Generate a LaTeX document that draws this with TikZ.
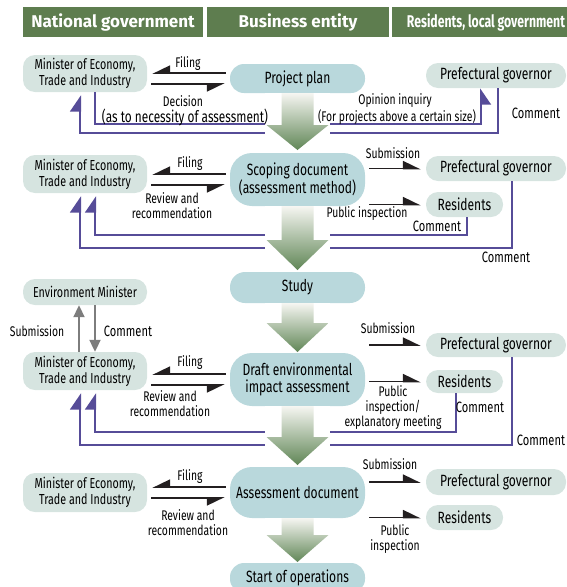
\documentclass[tikz,border=0pt]{standalone}
\usepackage{fontspec}
\setmainfont{Fira Sans}[FakeStretch=0.74]
\newfontfamily\headfont{Fira Sans}[FakeStretch=1.0]
\newfontfamily\headnarrow{Fira Sans}[FakeStretch=0.72]
\usetikzlibrary{arrows.meta,positioning}

\definecolor{headgreen}{RGB}{94,125,79}
\definecolor{bizblue}{RGB}{185,216,220}
\definecolor{govgray}{RGB}{214,228,224}
\definecolor{linepurple}{RGB}{86,76,152}
\definecolor{arrowblack}{RGB}{35,31,32}
\definecolor{arrowgray}{RGB}{125,125,125}
\definecolor{greendark}{RGB}{96,134,86}
\definecolor{greenlight}{RGB}{246,246,242}

\begin{document}
\begin{tikzpicture}[x=1pt, y=-1pt,
    header/.style={fill=headgreen, text=white, inner sep=0pt, minimum height=30pt,
        font=\headfont\bfseries\fontsize{17}{17}\selectfont},
    govbox/.style={fill=govgray, rounded corners=12pt, inner sep=0pt, align=center,
        font=\fontsize{14.5}{16}\selectfont},
    govsay/.style={govbox, font=\fontsize{16.3}{17}\selectfont},
    bizbox/.style={fill=bizblue, inner sep=0pt, align=center, minimum width=135pt,
        font=\fontsize{16.3}{17.5}\selectfont},
    lbl/.style={inner sep=0pt, align=center, font=\fontsize{14}{15}\selectfont},
    small/.style={inner sep=0pt, align=center, font=\fontsize{14}{15}\selectfont},
    cmt/.style={inner sep=0pt, font=\fontsize{15}{15}\selectfont},
    blk/.style={draw=arrowblack, line width=1.8pt, shorten <=4pt, shorten >=5pt},
    purp/.style={draw=linepurple, line width=2pt, shorten >=3pt},
    grayarr/.style={draw=arrowgray, line width=2pt, -{Triangle[length=12pt, width=11pt]}}]
    \useasboundingbox (0,0) rectangle (567,587);

    % Header
    \node[header, minimum width=180pt] (hnat) at (113,22) {National government};
    \node[header, minimum width=182pt] (hbiz) at (298,22) {Business entity};
    \node[header, minimum width=175pt] (hres) at (479.5,22) {};
    \node[text=white, inner sep=0pt, font=\headnarrow\bfseries\fontsize{17}{17}\selectfont] (hrest) at (486,22) {Residents, local government};

    % Ministers
    \node[govbox, minimum width=124pt, minimum height=37pt] (mina) at (85,73.5) {Minister of Economy,\\Trade and Industry};
    \node[govbox, minimum width=124pt, minimum height=38pt] (minb) at (85,174) {Minister of Economy,\\Trade and Industry};
    \node[govbox, minimum width=124pt, minimum height=26pt] (envm) at (85,292) {Environment Minister};
    \node[govbox, minimum width=124pt, minimum height=38pt] (minc) at (85,371) {Minister of Economy,\\Trade and Industry};
    \node[govbox, minimum width=124pt, minimum height=39pt] (mind) at (85,492.5) {Minister of Economy,\\Trade and Industry};

    % Business entity
    \node[bizbox, rounded corners=14pt, minimum height=29pt] (plan) at (297.5,78.5) {Project plan};
    \node[bizbox, rounded corners=22pt, minimum height=53pt] (scope) at (297.5,179.5) {Scoping document\\(assessment method)};
    \node[bizbox, rounded corners=15pt, minimum height=31pt] (study) at (297.5,287.5) {Study};
    \node[bizbox, rounded corners=22pt, minimum height=53pt] (draft) at (297.5,379.5) {Draft environmental\\impact assessment};
    \node[bizbox, rounded corners=22pt, minimum height=51pt] (assess) at (297.5,492.5) {Assessment document};
    \node[bizbox, rounded corners=14pt, minimum height=30pt] (start) at (297.5,578) {Start of operations};

    % Governors and residents
    \node[govsay, minimum width=140pt, minimum height=25pt] (gova) at (496,75.5) {Prefectural governor};
    \node[govsay, minimum width=140pt, minimum height=25pt] (govb) at (496,168.5) {Prefectural governor};
    \node[govsay, minimum width=140pt, minimum height=24pt] (govc) at (496,345) {Prefectural governor};
    \node[govsay, minimum width=140pt, minimum height=26pt] (govd) at (496,482) {Prefectural governor};
    \node[govsay, minimum width=77pt, minimum height=25pt] (resb) at (464.5,204.5) {Residents};
    \node[govsay, minimum width=77pt, minimum height=23pt] (resc) at (464.5,381.5) {Residents};
    \node[govsay, minimum width=77pt, minimum height=25pt] (resd) at (464.5,517.5) {Residents};

    % Filing and review
    \draw[blk, -{Triangle[length=16pt, width=15pt, right]}] ([yshift=5.5pt]plan.west) -- ([yshift=5.5pt]plan.west -| mina.east);
    \draw[blk, -{Triangle[length=16pt, width=15pt, right]}] ([yshift=-5.5pt]plan.west -| mina.east) -- ([yshift=-5.5pt]plan.west);
    \draw[blk, -{Triangle[length=16pt, width=15pt, right]}] ([yshift=5.5pt]scope.west) -- ([yshift=5.5pt]scope.west -| minb.east);
    \draw[blk, -{Triangle[length=16pt, width=15pt, right]}] ([yshift=-5.5pt]scope.west -| minb.east) -- ([yshift=-5.5pt]scope.west);
    \draw[blk, -{Triangle[length=16pt, width=15pt, right]}] ([yshift=5.5pt]draft.west) -- ([yshift=5.5pt]draft.west -| minc.east);
    \draw[blk, -{Triangle[length=16pt, width=15pt, right]}] ([yshift=-5.5pt]draft.west -| minc.east) -- ([yshift=-5.5pt]draft.west);
    \draw[blk, -{Triangle[length=16pt, width=15pt, right]}] ([yshift=5.5pt]assess.west) -- ([yshift=5.5pt]assess.west -| mind.east);
    \draw[blk, -{Triangle[length=16pt, width=15pt, right]}] ([yshift=-5.5pt]assess.west -| mind.east) -- ([yshift=-5.5pt]assess.west);

    % Submission and public inspection
    \draw[blk, -{Triangle[length=16pt, width=15pt, left]}] (govb.west -| scope.east) -- (govb.west);
    \draw[blk, -{Triangle[length=16pt, width=15pt, left]}] (resb.west -| scope.east) -- (resb.west);
    \draw[blk, -{Triangle[length=16pt, width=15pt, left]}] (govc.west -| draft.east) -- (govc.west);
    \draw[blk, -{Triangle[length=16pt, width=15pt, left]}] (resc.west -| draft.east) -- (resc.west);
    \draw[blk, -{Triangle[length=16pt, width=15pt, left]}] (govd.west -| assess.east) -- (govd.west);
    \draw[blk, -{Triangle[length=16pt, width=15pt, left]}] (resd.west -| assess.east) -- (resd.west);

    % Environment Minister
    \draw[grayarr] ([xshift=-6pt]minc.north) -- ([xshift=-6pt]envm.south);
    \draw[grayarr] ([xshift=10pt]envm.south) -- ([xshift=10pt]minc.north);

    % Comments and inquiries
    \draw[purp, shorten >=0pt, -{Triangle[length=15pt, width=20pt, right]}] ([xshift=10pt]mina.south) -- ++(0,32) -| ([xshift=-15pt]gova.south);
    \draw[purp, -{Triangle[length=15pt, width=20pt, left]}] ([xshift=2pt]gova.south) -- ++(0,45) -| ([xshift=-5pt]mina.south);
    \draw[purp, -{Triangle[length=15pt, width=20pt, left]}] ([xshift=2.5pt]resb.south) -- ++(0,18) -| ([xshift=10pt]minb.south);
    \draw[purp, -{Triangle[length=15pt, width=20pt, left]}] ([xshift=16pt]govb.south) -- ++(0,67) -| ([xshift=-5pt]minb.south);
    \draw[purp, -{Triangle[length=15pt, width=20pt, left]}] ([xshift=-8.5pt]resc.south) -- ++(0,39) -| ([xshift=10pt]minc.south);
    \draw[purp, -{Triangle[length=15pt, width=20pt, left]}] ([xshift=16pt]govc.south) -- ++(0,88) -| ([xshift=-5pt]minc.south);

    % Flow arrows
    \foreach \ytop/\ymid/\ytip in {93/125/150, 206/240/270, 303/323/352, 406/437/465, 518/535/562} {
        \fill[white] (265,\ytop) rectangle (330,\ytip);
        \shade[top color=greenlight, bottom color=greendark] (281.5,\ytop) -- (313.5,\ytop) -- (313.5,\ymid)
            -- (328.5,\ymid) -- (297.5,\ytip) -- (266.5,\ymid) -- (281.5,\ymid) -- cycle;
    }

    % Labels
    \node[lbl] (lfila) at (188,64) {Filing};
    \node[lbl] (ldeca) at (183,101) {Decision};
    \node[lbl, font=\fontsize{16}{16}\selectfont] (lnecs) at (185,117) {(as to necessity of assessment)};
    \node[lbl] (lopin) at (395,101) {Opinion inquiry};
    \node[small] (lsize) at (397,117) {(For projects above a certain size)};
    \node[cmt] (lcoma) at (536,113) {Comment};

    \node[lbl] (lfilb) at (190,164) {Filing};
    \node[lbl] (lrevb) at (172,205.5) {Review and\\recommendation};
    \node[lbl] (lsubb) at (393,153) {Submission};
    \node[lbl] (lpubb) at (367,214) {Public inspection};
    \node[cmt] (lcomb) at (437,226) {Comment};
    \node[cmt] (lcomc) at (506,257) {Comment};

    \node[lbl] (lsube) at (37,331) {Submission};
    \node[cmt] (lcome) at (128,331) {Comment};
    \node[lbl] (lfilc) at (190,363) {Filing};
    \node[lbl] (lrevc) at (170,404) {Review and\\recommendation};
    \node[lbl] (lsubc) at (388,328) {Submission};
    \node[lbl] (lpubc) at (393,408) {Public\\inspection/\\explanatory meeting};
    \node[cmt] (lcomd) at (480,407) {Comment};
    \node[cmt] (lcomf) at (541,440) {Comment};

    \node[lbl] (lfild) at (190,477) {Filing};
    \node[lbl] (lrevd) at (188,522.5) {Review and\\recommendation};
    \node[lbl] (lsubd) at (390,464) {Submission};
    \node[lbl] (lpubd) at (395,539.5) {Public\\inspection};
\end{tikzpicture}
\end{document}
